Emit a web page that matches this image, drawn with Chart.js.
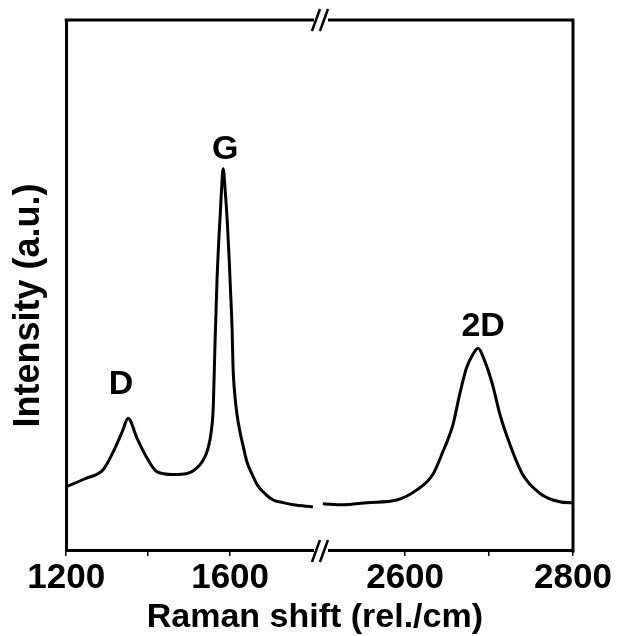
<!DOCTYPE html>
<html>
<head>
<meta charset="utf-8">
<script src="https://cdn.jsdelivr.net/npm/chart.js@4/dist/chart.umd.min.js"></script>
<style>
  html, body { margin: 0; padding: 0; background: #fff; }
  #wrap { width: 618px; height: 636px; }
</style>
</head>
<body>
<div id="wrap"><canvas id="c" width="618" height="636"></canvas></div>
<script>
// ---- Data (Raman shift in rel./cm, intensity in a.u.) ----
const leftShift = [1200, 1246, 1290, 1315, 1337, 1351, 1373, 1398, 1422, 1461, 1495, 1527, 1539, 1546, 1554, 1559, 1563, 1568, 1573, 1576, 1579, 1583, 1588, 1593, 1598, 1600, 1605, 1607, 1612, 1617, 1624, 1632, 1641, 1654, 1666, 1685, 1705, 1729, 1754, 1802];
const leftIntensity = [12.1, 13.6, 15.3, 18.7, 22.5, 25.0, 21.2, 17.4, 14.9, 14.4, 14.6, 16.3, 17.8, 19.3, 22.5, 27.2, 38.6, 50.9, 59.4, 63.5, 67.9, 72.0, 67.9, 62.2, 54.6, 50.9, 41.4, 35.0, 29.0, 25.6, 22.5, 19.7, 16.8, 14.4, 12.5, 10.8, 9.6, 9.1, 8.7, 8.3];
const rightShift = [2502, 2526, 2555, 2590, 2614, 2633, 2645, 2657, 2665, 2673, 2681, 2687, 2695, 2704, 2713, 2725, 2740, 2761, 2776, 2796, 2800];
const rightIntensity = [8.9, 8.7, 9.1, 9.6, 11.5, 14.4, 18.7, 23.8, 29.5, 34.4, 37.1, 38.2, 35.7, 31.4, 25.7, 20.0, 14.4, 10.8, 9.6, 9.1, 9.1];

const tickValues = [1200, 1400, 1600, 2600, 2700, 2800];
const tickLabels = ['1200', '', '1600', '2600', '', '2800'];

const peakLabels = ['D', 'G', '2D'];
const peakShift = [1351, 1583, 2687];
const peakIntensity = [25.0, 72.0, 38.2];

// ---- Broken axis mapping ----
const BREAK_LO = 1812;
const BREAK_HI = 2495;
const RIGHT_STRETCH = 0.84 / 0.41;
function toAxis(w) {
  return w <= BREAK_LO ? w : BREAK_LO + (w - BREAK_HI) * RIGHT_STRETCH;
}

const FONT = "'Liberation Sans', Arial, sans-serif";

const framePlugin = {
  id: 'frame',
  afterDatasetsDraw(chart) {
    const { ctx, chartArea: a, scales } = chart;
    ctx.save();
    ctx.strokeStyle = '#000';
    ctx.lineWidth = 3;
    ctx.lineCap = 'square';
    ctx.beginPath();
    ctx.moveTo(a.left, a.top);
    ctx.lineTo(a.right, a.top);
    ctx.lineTo(a.right, a.bottom);
    ctx.stroke();

    // break markers
    const bx = scales.x.getPixelForValue(toAxis(BREAK_LO)) + 4;
    [a.top, a.bottom].forEach(yy => {
      ctx.fillStyle = '#fff';
      ctx.fillRect(bx - 7, yy - 3, 14, 6);
      ctx.strokeStyle = '#000';
      ctx.lineWidth = 2.5;
      ctx.lineCap = 'butt';
      ctx.beginPath();
      ctx.moveTo(bx - 9, yy + 11);
      ctx.lineTo(bx - 1, yy - 11);
      ctx.moveTo(bx - 1, yy + 11);
      ctx.lineTo(bx + 7, yy - 11);
      ctx.stroke();
    });

    // peak labels
    const dx = [-7, 2, 5];
    const dy = [-24, -10, -12];
    ctx.fillStyle = '#000';
    ctx.font = 'bold 34px ' + FONT;
    ctx.textAlign = 'center';
    ctx.textBaseline = 'alphabetic';
    peakLabels.forEach((t, i) => {
      const px = scales.x.getPixelForValue(toAxis(peakShift[i])) + dx[i];
      const py = scales.y.getPixelForValue(peakIntensity[i]) + dy[i];
      ctx.fillText(t, px, py);
    });
    ctx.restore();
  }
};

const lineStyle = {
  borderColor: '#000',
  borderWidth: 3,
  pointRadius: 0,
  fill: false,
  cubicInterpolationMode: 'monotone'
};

new Chart(document.getElementById('c'), {
  type: 'line',
  data: {
    datasets: [
      Object.assign({ label: 'left', data: leftShift.map((w, i) => ({ x: toAxis(w), y: leftIntensity[i] })) }, lineStyle),
      Object.assign({ label: 'right', data: rightShift.map((w, i) => ({ x: toAxis(w), y: rightIntensity[i] })) }, lineStyle)
    ]
  },
  options: {
    responsive: false,
    animation: false,
    layout: { padding: { left: 7, right: 45, top: 20, bottom: 0 } },
    plugins: { legend: { display: false }, tooltip: { enabled: false } },
    scales: {
      x: {
        type: 'linear',
        min: toAxis(1200),
        max: toAxis(2800),
        afterBuildTicks(scale) {
          scale.ticks = tickValues.map(v => ({ value: toAxis(v) }));
        },
        ticks: {
          autoSkip: false,
          maxRotation: 0,
          color: '#000',
          padding: 1,
          font: { family: FONT, size: 35, weight: 'bold' },
          callback: (val, idx) => tickLabels[idx]
        },
        grid: { display: true, drawOnChartArea: false, drawTicks: true, tickLength: 5, color: '#000', lineWidth: 1.5 },
        border: { display: true, color: '#000', width: 3 },
        title: {
          display: true,
          text: 'Raman shift (rel./cm)\u00a0',
          color: '#000',
          font: { family: FONT, size: 34, weight: 'bold', lineHeight: 1.06 },
          padding: { top: 0, bottom: 0 }
        }
      },
      y: {
        min: 0,
        max: 100,
        ticks: { display: false },
        grid: { display: false },
        border: { display: true, color: '#000', width: 3 },
        title: {
          display: true,
          text: 'Intensity (a.u.)\u00a0\u00a0\u00a0\u00a0',
          color: '#000',
          font: { family: FONT, size: 36, weight: 'bold' },
          padding: { top: 0, bottom: 8 }
        }
      }
    }
  },
  plugins: [framePlugin]
});
</script>
</body>
</html>
